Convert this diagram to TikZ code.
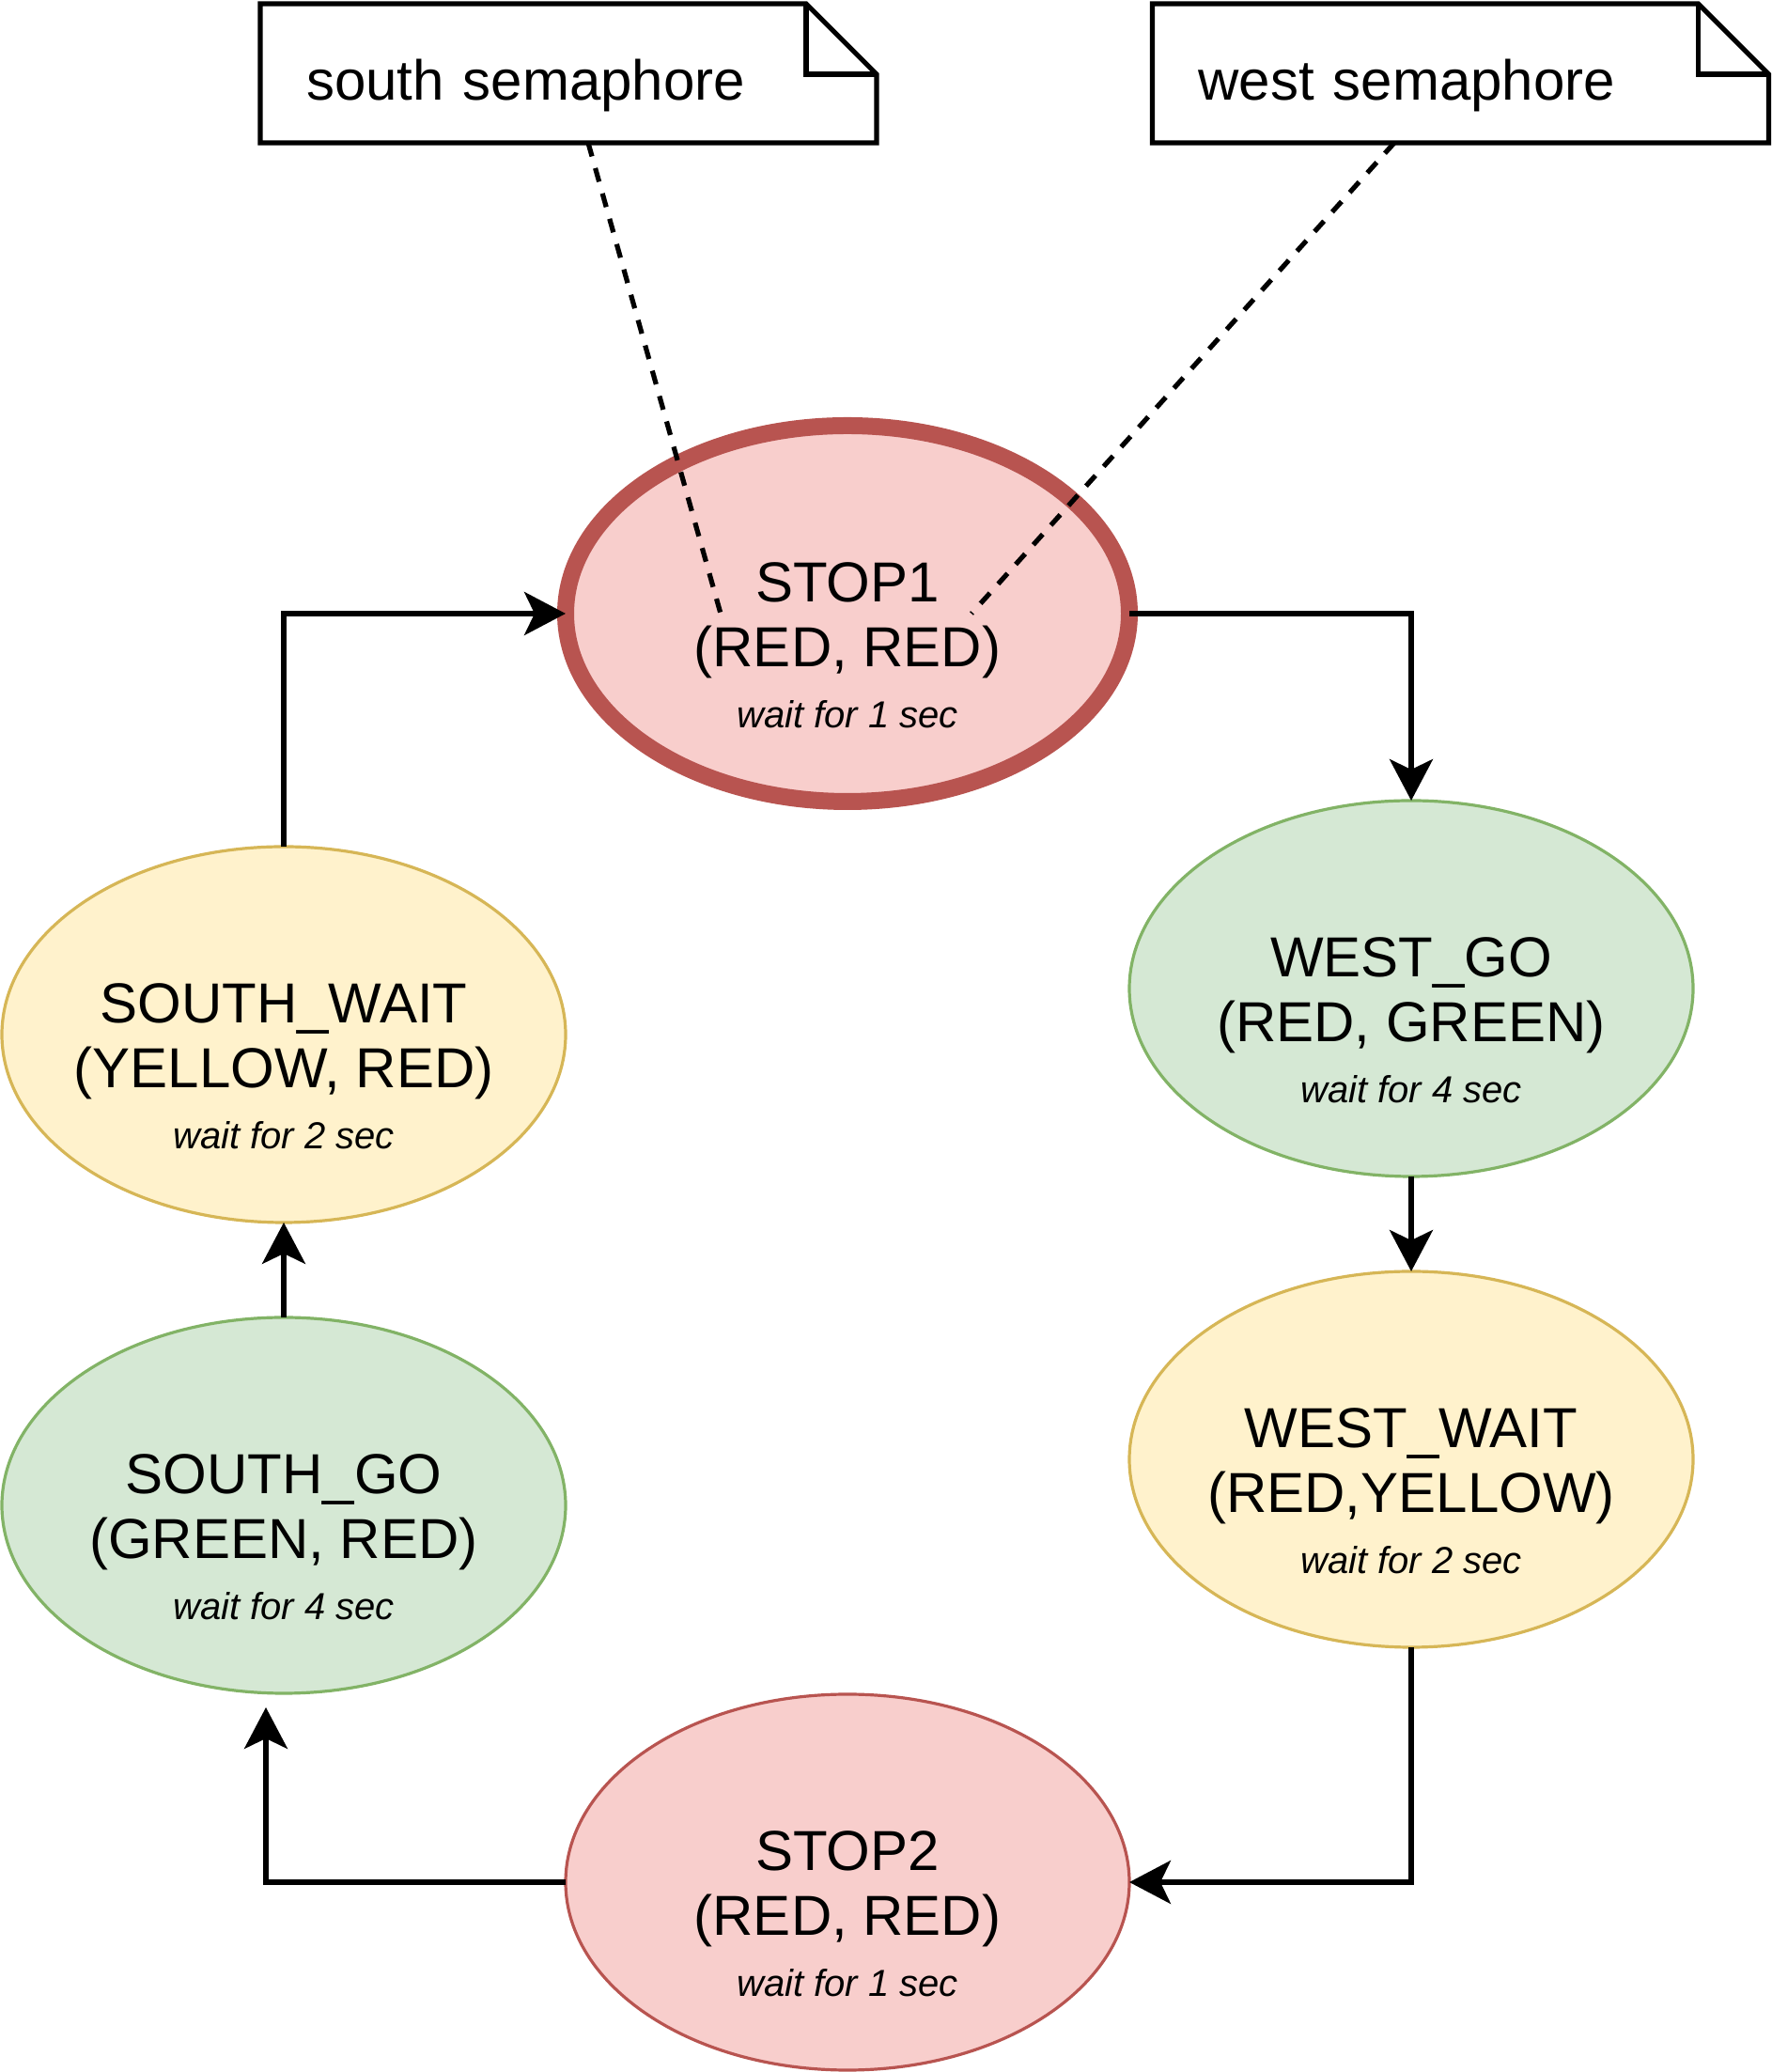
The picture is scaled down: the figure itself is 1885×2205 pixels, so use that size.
\documentclass[tikz,border=0pt]{standalone}
\usepackage{fontspec}
\setmainfont{Liberation Sans}
\usetikzlibrary{arrows.meta,shapes.geometric}

\definecolor{redfill}{HTML}{F8CECC}
\definecolor{redline}{HTML}{B85450}
\definecolor{greenfill}{HTML}{D5E8D4}
\definecolor{greenline}{HTML}{82B366}
\definecolor{yellowfill}{HTML}{FFF2CC}
\definecolor{yellowline}{HTML}{D6B656}

\newcommand{\statetext}[3]{\rule{0pt}{55pt}#1\\#2\\[-2pt]{\fontsize{20}{24}\selectfont\itshape #3}}

\tikzset{
  stateshape/.style={ellipse, draw, line width=1.6pt, minimum width=300pt, minimum height=200pt,
    inner xsep=-20pt, inner ysep=0pt, outer sep=0pt, align=center, font=\fontsize{30}{34.5}\selectfont},
  redstate/.style={stateshape, fill=redfill, draw=redline},
  greenstate/.style={stateshape, fill=greenfill, draw=greenline},
  yellowstate/.style={stateshape, fill=yellowfill, draw=yellowline},
  notebox/.style={rectangle, minimum width=328pt, minimum height=74pt, inner xsep=24.5pt, inner ysep=0pt,
    outer sep=0pt, text width=279pt, align=left, text height=29pt, text depth=0pt, font=\fontsize{30}{36}\selectfont},
  noteline/.style={line width=2.6pt},
  flow/.style={line width=2.6pt, -{Stealth[length=22pt,width=23pt,inset=5.5pt]}},
  link/.style={line width=2.6pt, dash pattern=on 7.5pt off 6.5pt},
}

\begin{document}
\begin{tikzpicture}[x=0.5pt,y=0.5pt]
\useasboundingbox (0,0) rectangle (1885,2205);

% states
\node[redstate, line width=9pt] (stop1) at (902,1552) {\statetext{STOP1}{(RED, RED)}{wait for 1 sec}};
\node[greenstate] (westgo) at (1502,1153) {\statetext{WEST\_GO}{(RED, GREEN)}{wait for 4 sec}};
\node[yellowstate] (westwait) at (1502,652) {\statetext{WEST\_WAIT}{(RED,YELLOW)}{wait for 2 sec}};
\node[redstate] (stop2) at (902,202) {\statetext{STOP2}{(RED, RED)}{wait for 1 sec}};
\node[greenstate] (southgo) at (302,603) {\statetext{SOUTH\_GO}{(GREEN, RED)}{wait for 4 sec}};
\node[yellowstate] (southwait) at (302,1104) {\statetext{SOUTH\_WAIT}{(YELLOW, RED)}{wait for 2 sec}};

% notes
\node[notebox] (southnote) at (605,2127) {south semaphore};
\node[notebox] (westnote) at (1554.5,2127) {west semaphore};
\draw[noteline] (southnote.south west) -- (southnote.north west) -- ([xshift=-37.5pt]southnote.north east)
  -- ([yshift=-37.5pt]southnote.north east) -- (southnote.south east) -- cycle;
\draw[noteline] ([xshift=-37.5pt]southnote.north east) |- ([yshift=-37.5pt]southnote.north east);
\draw[noteline] (westnote.south west) -- (westnote.north west) -- ([xshift=-37.5pt]westnote.north east)
  -- ([yshift=-37.5pt]westnote.north east) -- (westnote.south east) -- cycle;
\draw[noteline] ([xshift=-37.5pt]westnote.north east) |- ([yshift=-37.5pt]westnote.north east);

% transitions
\coordinate (southgoin) at (283,388);
\draw[flow] (stop1.east) -| (westgo.north);
\draw[flow] (westgo.south) -- (westwait.north);
\draw[flow] (westwait.south) |- (stop2.east);
\draw[flow] (stop2.west) -| (southgoin);
\draw[flow] (southgo.north) -- (southwait.south);
\draw[flow] (southwait.north) |- (stop1.west);

% note links
\coordinate (southtap) at (767,1552);
\coordinate (westtap) at (1034,1552);
\draw[link] ([xshift=10.5pt]southnote.south) -- (southtap);
\draw[link] ([xshift=-35.25pt]westnote.south) -- (westtap);
\end{tikzpicture}
\end{document}
